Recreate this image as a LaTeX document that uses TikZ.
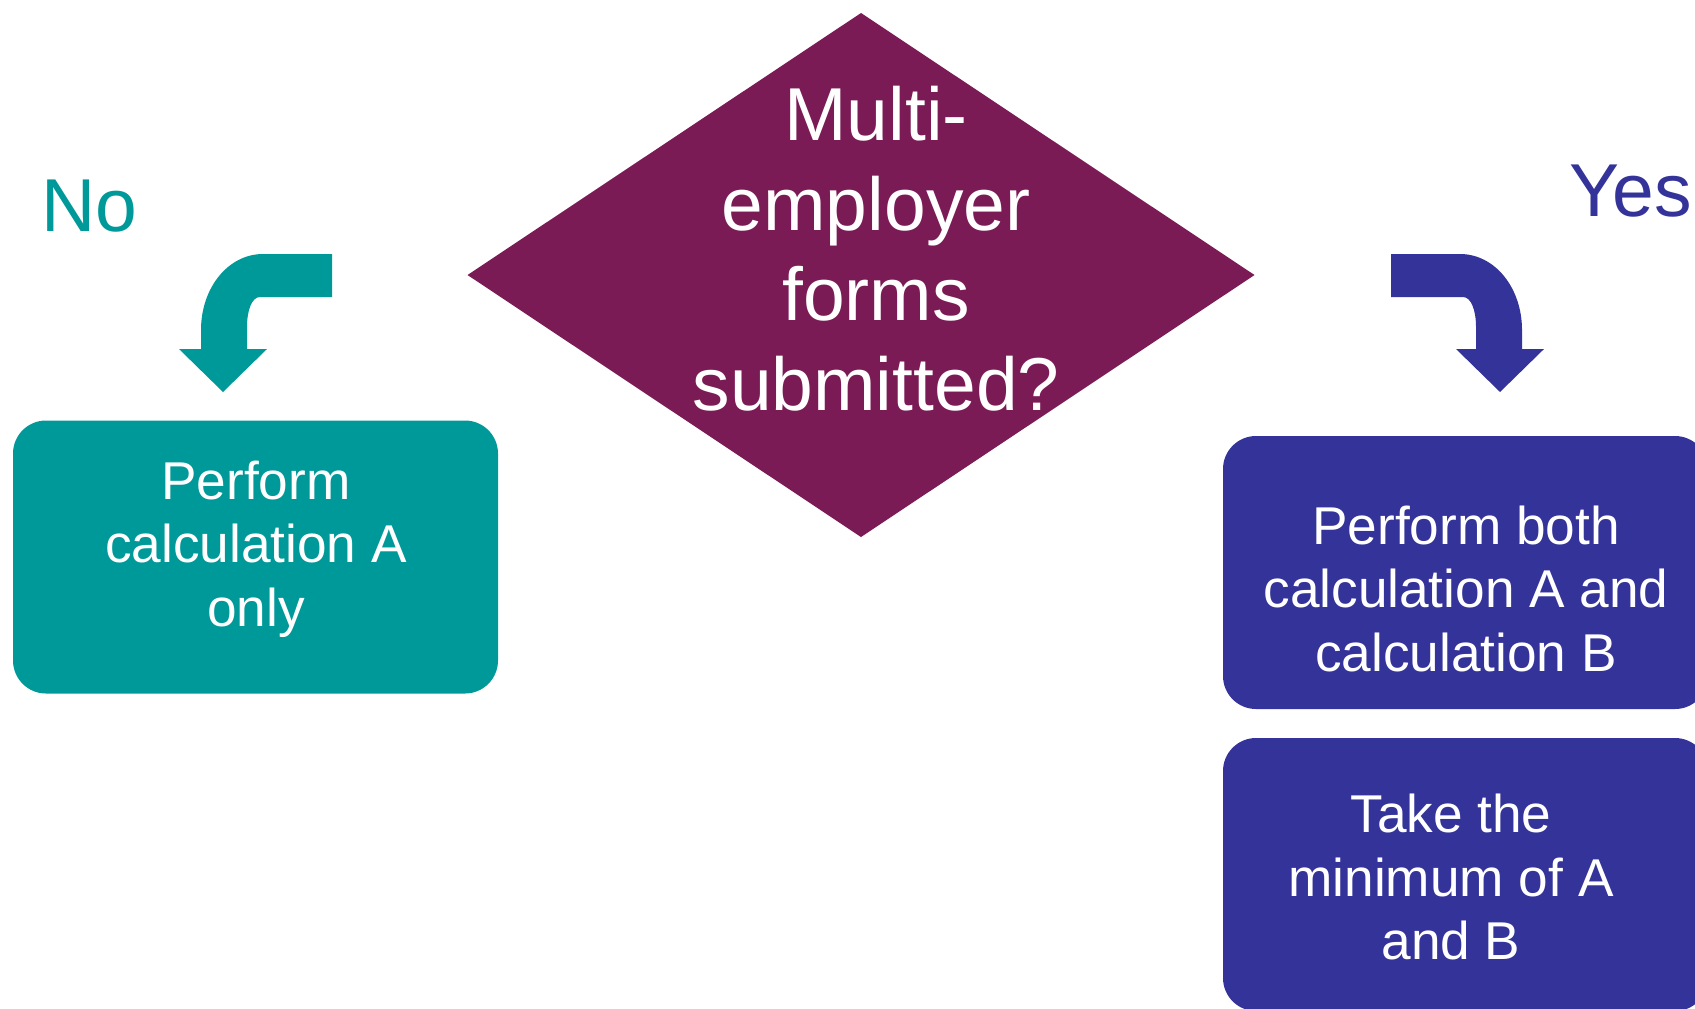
\documentclass[tikz,border=0pt]{standalone}
\usepackage{fontspec}
\setmainfont{Liberation Sans}
\usetikzlibrary{shapes.geometric}
\definecolor{tealc}{RGB}{0,153,153}
\definecolor{plum}{RGB}{123,27,86}
\definecolor{navyc}{RGB}{51,51,153}
\tikzset{
  box/.style={rounded corners=16.5pt, inner sep=0pt, outer sep=0pt, minimum width=242.5pt, minimum height=136.5pt},
  boxtext/.style={text=white, align=center, inner sep=0pt, font=\fontsize{26.6pt}{31.75pt}\selectfont},
  dtext/.style={text=white, align=center, inner sep=0pt, font=\fontsize{37.5pt}{45pt}\selectfont},
  answer/.style={inner sep=0pt, anchor=base west, font=\fontsize{37.5pt}{45pt}\selectfont},
}
\begin{document}
\begin{tikzpicture}[x=0.5pt, y=-0.5pt]
\useasboundingbox (0,0) rectangle (1695,1008);
\clip (0,0) rectangle (1695,1008);
% decision
\node[diamond, fill=plum, inner sep=0pt, outer sep=0pt, minimum width=393.5pt, minimum height=262pt] (dec) at (861,275) {};
\node[dtext] (dectext) at (876,249) {Multi-\\employer\\forms\\submitted?};
% labels
\node[answer, text=tealc] (no) at (41,231) {No};
\node[answer, text=navyc] (yes) at (1569,216) {Yes};
% boxes
\node[box, fill=tealc] (boxA) at (255.5,557) {};
\node[boxtext] (boxAtext) at (256,549) {Perform\\calculation A\\only};
\node[box, fill=navyc] (boxB) at (1465.5,572.5) {};
\node[boxtext] (boxBtext) at (1466,588.5) {Perform both\\calculation A and\\calculation B};
\node[box, fill=navyc] (boxC) at (1465.5,874.5) {};
\node[boxtext] (boxCtext) at (1451,877) {Take the\\minimum of A\\and B};
% curved arrows
\fill[tealc] (332,254) -- (263,254) .. controls (228,254) and (201,288) .. (201,330)
  -- (201,349) -- (179,349) -- (223,392) -- (267,349) -- (247,349) -- (247,327)
  .. controls (247,310) and (252,297) .. (260,297) -- (332,297) -- cycle;
\fill[navyc] (1391,254) -- (1460,254) .. controls (1495,254) and (1522,288) .. (1522,330)
  -- (1522,349) -- (1544,349) -- (1500,392) -- (1456,349) -- (1476,349) -- (1476,327)
  .. controls (1476,310) and (1471,297) .. (1463,297) -- (1391,297) -- cycle;
\end{tikzpicture}
\end{document}
